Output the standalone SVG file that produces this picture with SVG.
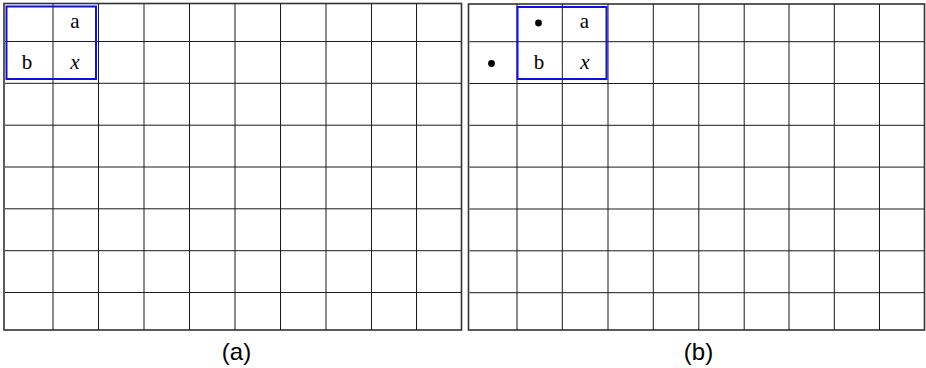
<svg xmlns="http://www.w3.org/2000/svg" width="926" height="368" viewBox="0 0 926 368">
  <style>
    .frame { fill: #ffffff; stroke: #333333; stroke-width: 1.6; }
    .grid line { stroke: #1a1a1a; stroke-width: 1; }
    .sel { fill: none; stroke: #1010e0; stroke-width: 2; }
    .cell { font-family: "Liberation Serif", "Times New Roman", serif; font-size: 21px; fill: #000; text-anchor: middle; }
    .ital { font-style: italic; }
    .cap { font-family: "Liberation Sans", Arial, sans-serif; font-size: 24px; fill: #000; text-anchor: middle; }
    .dot { fill: #000; }
  </style>
  <rect width="926" height="368" fill="#ffffff"/>

  <g id="panel-a">
    <rect class="frame" x="4" y="3.5" width="457.5" height="326.5"/>
    <g class="grid">
      <line x1="53" y1="3.5" x2="53" y2="330"/>
      <line x1="98.5" y1="3.5" x2="98.5" y2="330"/>
      <line x1="144" y1="3.5" x2="144" y2="330"/>
      <line x1="189.5" y1="3.5" x2="189.5" y2="330"/>
      <line x1="235" y1="3.5" x2="235" y2="330"/>
      <line x1="280.5" y1="3.5" x2="280.5" y2="330"/>
      <line x1="326" y1="3.5" x2="326" y2="330"/>
      <line x1="371.5" y1="3.5" x2="371.5" y2="330"/>
      <line x1="416.5" y1="3.5" x2="416.5" y2="330"/>
      <line x1="5" y1="41.5" x2="461" y2="41.5"/>
      <line x1="5" y1="83.3" x2="461" y2="83.3"/>
      <line x1="5" y1="125.2" x2="461" y2="125.2"/>
      <line x1="5" y1="167" x2="461" y2="167"/>
      <line x1="5" y1="208.8" x2="461" y2="208.8"/>
      <line x1="5" y1="250.7" x2="461" y2="250.7"/>
      <line x1="5" y1="292.5" x2="461" y2="292.5"/>
    </g>
    <rect class="sel" x="6.5" y="6.5" width="89.5" height="72.5"/>
    <text class="cell" x="75" y="28">a</text>
    <text class="cell" x="27" y="69">b</text>
    <text class="cell ital" x="75" y="69">x</text>
    <text class="cap" x="236.5" y="360">(a)</text>
  </g>

  <g id="panel-b">
    <rect class="frame" x="468.5" y="4" width="456" height="326"/>
    <g class="grid">
      <line x1="517" y1="4" x2="517" y2="330"/>
      <line x1="562.3" y1="4" x2="562.3" y2="330"/>
      <line x1="608" y1="4" x2="608" y2="330"/>
      <line x1="653.3" y1="4" x2="653.3" y2="330"/>
      <line x1="698.8" y1="4" x2="698.8" y2="330"/>
      <line x1="744.2" y1="4" x2="744.2" y2="330"/>
      <line x1="789" y1="4" x2="789" y2="330"/>
      <line x1="834.3" y1="4" x2="834.3" y2="330"/>
      <line x1="879.5" y1="4" x2="879.5" y2="330"/>
      <line x1="469.5" y1="41.7" x2="924" y2="41.7"/>
      <line x1="469.5" y1="83.5" x2="924" y2="83.5"/>
      <line x1="469.5" y1="125.3" x2="924" y2="125.3"/>
      <line x1="469.5" y1="167.1" x2="924" y2="167.1"/>
      <line x1="469.5" y1="209" x2="924" y2="209"/>
      <line x1="469.5" y1="250.8" x2="924" y2="250.8"/>
      <line x1="469.5" y1="292.7" x2="924" y2="292.7"/>
    </g>
    <rect class="sel" x="517.5" y="7" width="89" height="72"/>
    <circle class="dot" cx="538.5" cy="23" r="3.4"/>
    <circle class="dot" cx="491.5" cy="63.5" r="3.4"/>
    <text class="cell" x="584.5" y="28">a</text>
    <text class="cell" x="539" y="69">b</text>
    <text class="cell ital" x="585" y="69">x</text>
    <text class="cap" x="698.5" y="360">(b)</text>
  </g>
</svg>
